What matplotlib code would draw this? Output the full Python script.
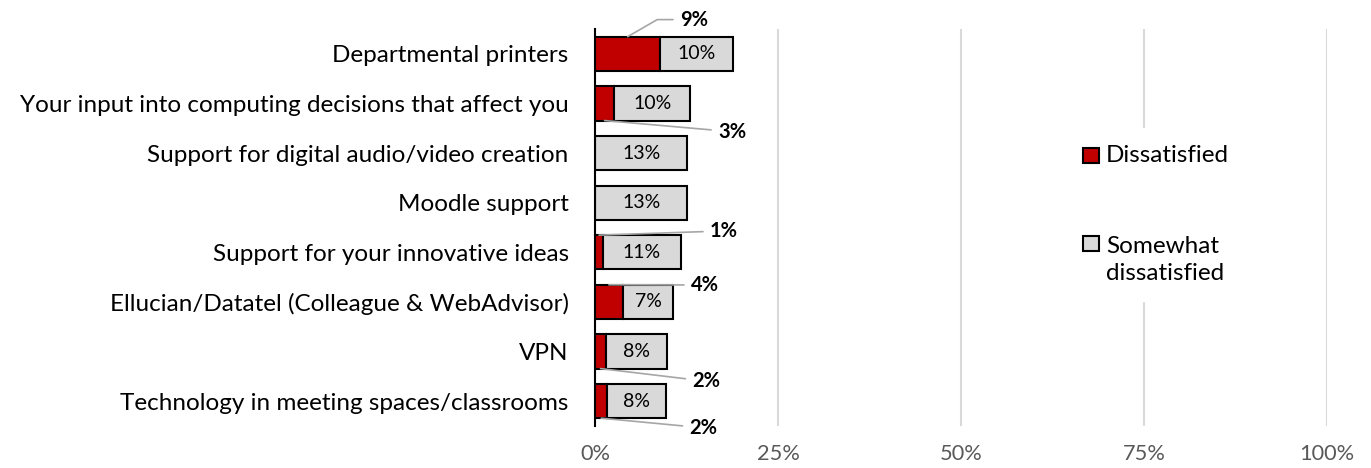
import numpy as np
import matplotlib.pyplot as plt
from matplotlib.patches import Rectangle
from matplotlib.ticker import PercentFormatter

plt.rcParams['font.family'] = ['Lato', 'DejaVu Sans']

categories = [
    'Departmental printers',
    'Your input into computing decisions that affect you',
    'Support for digital audio/video creation',
    'Moodle support',
    'Support for your innovative ideas',
    'Ellucian/Datatel (Colleague & WebAdvisor)',
    'VPN',
    'Technology in meeting spaces/classrooms',
]
dissatisfied = [8.9, 2.6, 0.0, 0.0, 1.1, 3.8, 1.5, 1.7]
somewhat = [10.0, 10.4, 12.6, 12.6, 10.6, 6.9, 8.3, 8.0]
dis_labels = ['9%', '3%', '', '', '1%', '4%', '2%', '2%']
some_labels = ['10%', '10%', '13%', '13%', '11%', '7%', '8%', '8%']
series_names = ['Dissatisfied', 'Somewhat\ndissatisfied']
x_ticks = [0, 25, 50, 75, 100]

RED = '#c00000'
GREY = '#d9d9d9'

# where the outside red labels sit: (x in %, y offset in rows, point on bar: top/bottom)
label_place = [
    (11.6, -0.69, 'top'),
    (16.8, 0.57, 'bottom'),
    None,
    None,
    (15.7, -0.43, 'top'),
    (13.1, -0.34, 'top'),
    (13.3, 0.60, 'bottom'),
    (12.9, 0.54, 'bottom'),
]

fig = plt.figure(figsize=(13.71, 4.68), dpi=100)
ax = fig.add_axes([0.434, 0.09, 0.534, 0.848])

y = np.arange(len(categories))
bh = 0.69
ax.barh(y, dissatisfied, height=bh, color=RED, edgecolor='black', linewidth=1.5, zorder=3)
ax.barh(y, somewhat, left=dissatisfied, height=bh, color=GREY, edgecolor='black',
        linewidth=1.5, zorder=3)

for i in range(len(categories)):
    ax.text(dissatisfied[i] + somewhat[i] / 2, y[i], some_labels[i], ha='center',
            va='center', fontsize=14, color='black', zorder=4)
    place = label_place[i]
    if place is None or not dis_labels[i]:
        continue
    tx, dy, edge = place
    py = y[i] - bh / 2 if edge == 'top' else y[i] + bh / 2
    cstyle = 'angle,angleA=0,angleB=30,rad=0' if i == 0 else 'arc3'
    ax.annotate(dis_labels[i], xy=(dissatisfied[i] / 2, py), xytext=(tx, y[i] + dy),
                ha='left', va='center', fontsize=14.5, fontweight='bold',
                arrowprops=dict(arrowstyle='-', color='#a6a6a6', lw=1.2,
                                connectionstyle=cstyle, shrinkA=3, shrinkB=0),
                zorder=4, annotation_clip=False)

ax.set_xlim(0, 100)
ax.set_ylim(len(categories) - 0.5, -0.5)
ax.set_xticks(x_ticks)
ax.xaxis.set_major_formatter(PercentFormatter(decimals=0))
ax.set_yticks(y)
ax.set_yticklabels(categories, fontsize=17.5)
ax.tick_params(axis='x', length=0, pad=13, labelsize=15.7, labelcolor='#595959')
ax.tick_params(axis='y', length=0, pad=19)
ax.grid(axis='x', color='#d9d9d9', linewidth=1.5, zorder=0)
ax.set_axisbelow(True)
for s in ['top', 'right', 'bottom']:
    ax.spines[s].set_visible(False)
ax.spines['left'].set_linewidth(1.5)
ax.spines['left'].set_zorder(5)

# legend drawn by hand so the grey box lines up with the first text line
ax.add_patch(Rectangle((0.649, 0.312), 0.239, 0.439, transform=ax.transAxes,
                       facecolor='white', edgecolor='none', zorder=6))
for name, col, sy, ty in zip(series_names, [RED, GREY], [0.662, 0.441], [0.681, 0.418]):
    ax.add_patch(Rectangle((0.667, sy), 0.021, 0.038, transform=ax.transAxes,
                           facecolor=col, edgecolor='black', linewidth=1.5, zorder=7))
    ax.text(0.698, ty, name, transform=ax.transAxes, ha='left', va='center',
            fontsize=17.5, linespacing=1.35, zorder=7)

fig.savefig('out.png', dpi=100)
